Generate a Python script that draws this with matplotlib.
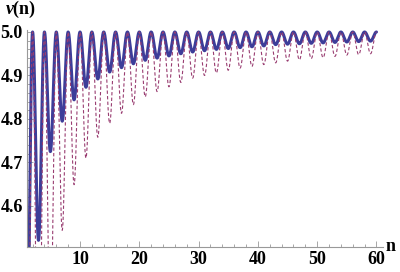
import numpy as np
import matplotlib
matplotlib.use("Agg")
import matplotlib.pyplot as plt
from matplotlib.ticker import MultipleLocator

plt.rcParams['mathtext.fontset'] = 'custom'
plt.rcParams['mathtext.it'] = 'Liberation Serif:italic:bold'
plt.rcParams['mathtext.rm'] = 'Liberation Serif:bold'

# trough values, one per odd n (peaks sit at 5.0 on even n)
odd_n = np.arange(1, 60, 2)
solid_min = [4.20, 4.521, 4.725, 4.795, 4.844, 4.873, 4.892, 4.908, 4.918, 4.927,
             4.935, 4.940, 4.945, 4.950, 4.954, 4.957, 4.960, 4.962, 4.964, 4.966,
             4.968, 4.971, 4.972, 4.973, 4.974, 4.975, 4.976, 4.977, 4.978, 4.979]
dashed_min = [3.80, 4.00, 4.30, 4.544, 4.649, 4.710, 4.758, 4.790, 4.813, 4.833,
              4.851, 4.863, 4.874, 4.884, 4.894, 4.900, 4.906, 4.912, 4.917, 4.921,
              4.925, 4.929, 4.933, 4.936, 4.939, 4.941, 4.944, 4.947, 4.948, 4.950]
peak = 5.0

xticks = [10, 20, 30, 40, 50, 60]
yticks = [4.6, 4.7, 4.8, 4.9, 5.0]

def wave(n, troughs):
    """ half-cosine shape between peaks (even n) and the trough of each odd n """
    idx = np.clip(np.floor(n / 2).astype(int), 0, len(troughs) - 1)
    depth = peak - np.asarray(troughs)[idx]
    return peak - depth * (1 - np.cos(np.pi * n)) / 2

n = np.linspace(odd_n[0], 60, 4000)

fig = plt.figure(figsize=(4.0, 2.72), dpi=100)
ax = fig.add_axes([0.0675, 0.0919, 0.89, 0.798])

blue = (0.24, 0.24, 0.6)
purple = (0.6, 0.24, 0.442)
ax.plot(n, wave(n, solid_min), color=blue, lw=2.2, solid_capstyle='round')
ax.plot(n, wave(n, dashed_min), color=purple, lw=0.8, dashes=(3, 2))

ax.set_xlim(1.06, 61.1)
ax.set_ylim(4.5057, 5.0047)

for s in ['top', 'right']:
    ax.spines[s].set_visible(False)
for s in ['left', 'bottom']:
    ax.spines[s].set_color('#999999')
    ax.spines[s].set_linewidth(0.8)

ax.set_xticks(xticks)
ax.set_yticks(yticks)
ax.set_yticklabels([f"{v:.1f}" for v in yticks])
ax.xaxis.set_minor_locator(MultipleLocator(2))
ax.yaxis.set_minor_locator(MultipleLocator(0.02))
ax.tick_params(which='both', direction='in', color='#999999', width=0.6)
ax.tick_params(which='major', length=4, pad=3)
ax.tick_params(which='minor', length=2)

font = dict(family='Liberation Serif', weight='bold', size=13)
for lab in ax.get_xticklabels() + ax.get_yticklabels():
    lab.set_fontproperties(matplotlib.font_manager.FontProperties(**font))

fig.text(0.012, 0.925, r"$\nu$(n)", fontsize=13, fontfamily='Liberation Serif',
         fontweight='bold', va='bottom', ha='left')
fig.text(0.965, 0.092, "n", fontsize=13, fontfamily='Liberation Serif',
         fontweight='bold', va='center', ha='left')

fig.savefig("out.png", dpi=100)
